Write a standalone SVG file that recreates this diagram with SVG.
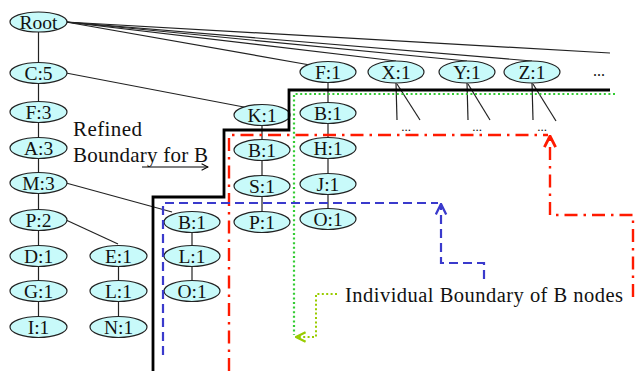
<svg xmlns="http://www.w3.org/2000/svg" width="635" height="371" viewBox="0 0 635 371">
  <style>
    .node ellipse { fill: #c8fafa; stroke: #222; stroke-width: 1.2; }
    .node text { font-family: "Liberation Serif", "Times New Roman", serif; font-size: 19.5px; fill: #111; text-anchor: middle; }
    .edge { stroke: #222; stroke-width: 1.2; fill: none; }
    .label { font-family: "Liberation Serif", "Times New Roman", serif; fill: #111; }
    .dots { font-family: "Liberation Serif", "Times New Roman", serif; font-size: 13px; fill: #111; text-anchor: middle; }
    .refined { stroke: #000; stroke-width: 2.8; fill: none; }
    .red { stroke: #ff1a00; stroke-width: 2.4; fill: none; stroke-dasharray: 13 6 2.5 6; }
    .blue { stroke: #3a3acc; stroke-width: 2.2; fill: none; stroke-dasharray: 9 5; }
    .green { stroke: #33cc33; stroke-width: 2.2; fill: none; stroke-dasharray: 2 2.6; }
    .lime { stroke: #99cc00; stroke-width: 2; fill: none; stroke-dasharray: 2 2.4; }
  </style>
  <defs>
    <marker id="arrow-black" viewBox="0 0 10 10" refX="9" refY="5" markerWidth="8" markerHeight="8" markerUnits="userSpaceOnUse" orient="auto">
      <path d="M1,1 L9,5 L1,9" fill="none" stroke="#000" stroke-width="1.3"/>
    </marker>
    <marker id="arrow-red" viewBox="0 0 10 10" refX="9" refY="5" markerWidth="14" markerHeight="14" markerUnits="userSpaceOnUse" orient="auto">
      <path d="M1,1 L9,5 L1,9" fill="none" stroke="#ff1a00" stroke-width="2"/>
    </marker>
    <marker id="arrow-blue" viewBox="0 0 10 10" refX="9" refY="5" markerWidth="13" markerHeight="13" markerUnits="userSpaceOnUse" orient="auto">
      <path d="M1,1 L9,5 L1,9" fill="none" stroke="#3a3acc" stroke-width="1.8"/>
    </marker>
    <marker id="arrow-lime" viewBox="0 0 10 10" refX="9" refY="5" markerWidth="12" markerHeight="12" markerUnits="userSpaceOnUse" orient="auto">
      <path d="M1,1 L9,5 L1,9" fill="none" stroke="#99cc00" stroke-width="2"/>
    </marker>
  </defs>

  <!-- tree edges -->
  <g id="connectors">
    <line class="edge" x1="66" y1="22" x2="310" y2="65"/>
    <line class="edge" x1="66" y1="22" x2="396" y2="61"/>
    <line class="edge" x1="66" y1="22" x2="467" y2="61"/>
    <line class="edge" x1="66" y1="22" x2="532" y2="61"/>
    <line class="edge" x1="66" y1="22" x2="610" y2="53"/>
    <line class="edge" x1="38.5" y1="22" x2="38.5" y2="327"/>
    <line class="edge" x1="66" y1="73" x2="249" y2="108"/>
    <line class="edge" x1="66" y1="183" x2="172" y2="212"/>
    <line class="edge" x1="66" y1="220" x2="118" y2="244"/>
    <line class="edge" x1="118.5" y1="256" x2="118.5" y2="327"/>
    <line class="edge" x1="192" y1="222" x2="192" y2="291"/>
    <line class="edge" x1="262" y1="115" x2="262" y2="222"/>
    <line class="edge" x1="328" y1="72" x2="328" y2="219"/>
    <!-- children stubs below X, Y, Z -->
    <line class="edge" x1="396" y1="83" x2="397" y2="120"/>
    <line class="edge" x1="397" y1="84" x2="420" y2="120"/>
    <line class="edge" x1="467" y1="83" x2="468" y2="120"/>
    <line class="edge" x1="468" y1="84" x2="490" y2="120"/>
    <line class="edge" x1="532" y1="83" x2="533" y2="120"/>
    <line class="edge" x1="533" y1="84" x2="556" y2="121"/>
  </g>

  <!-- nodes -->
  <g id="n-root" class="node"><ellipse cx="38.5" cy="22" rx="28.5" ry="10"/><text x="38.5" y="28.5">Root</text></g>
  <g id="n-c5" class="node"><ellipse cx="38.5" cy="73" rx="28.5" ry="10.5"/><text x="38.5" y="79.5">C:5</text></g>
  <g id="n-f3" class="node"><ellipse cx="38.5" cy="112" rx="28.5" ry="10.5"/><text x="38.5" y="118.5">F:3</text></g>
  <g id="n-a3" class="node"><ellipse cx="38.5" cy="148" rx="28.5" ry="10.5"/><text x="38.5" y="154.5">A:3</text></g>
  <g id="n-m3" class="node"><ellipse cx="38.5" cy="183" rx="28.5" ry="10.5"/><text x="38.5" y="189.5">M:3</text></g>
  <g id="n-p2" class="node"><ellipse cx="38.5" cy="220" rx="28.5" ry="10.5"/><text x="38.5" y="226.5">P:2</text></g>
  <g id="n-d1" class="node"><ellipse cx="38.5" cy="256" rx="28.5" ry="10.5"/><text x="38.5" y="262.5">D:1</text></g>
  <g id="n-g1" class="node"><ellipse cx="38.5" cy="291" rx="28.5" ry="10.5"/><text x="38.5" y="297.5">G:1</text></g>
  <g id="n-i1" class="node"><ellipse cx="38.5" cy="327" rx="28.5" ry="10.5"/><text x="38.5" y="333.5">I:1</text></g>
  <g id="n-e1" class="node"><ellipse cx="118.5" cy="256" rx="28.5" ry="10.5"/><text x="118.5" y="262.5">E:1</text></g>
  <g id="n-l1a" class="node"><ellipse cx="118.5" cy="291" rx="28.5" ry="10.5"/><text x="118.5" y="297.5">L:1</text></g>
  <g id="n-n1" class="node"><ellipse cx="118.5" cy="327" rx="28.5" ry="10.5"/><text x="118.5" y="333.5">N:1</text></g>
  <g id="n-b1a" class="node"><ellipse cx="192" cy="222" rx="28" ry="10.5"/><text x="192" y="228.5">B:1</text></g>
  <g id="n-l1b" class="node"><ellipse cx="192" cy="256" rx="28" ry="10.5"/><text x="192" y="262.5">L:1</text></g>
  <g id="n-o1a" class="node"><ellipse cx="192" cy="291" rx="28" ry="10.5"/><text x="192" y="297.5">O:1</text></g>
  <g id="n-k1" class="node"><ellipse cx="262" cy="115" rx="28" ry="10.5"/><text x="262" y="121.5">K:1</text></g>
  <g id="n-b1b" class="node"><ellipse cx="262" cy="150" rx="28" ry="10.5"/><text x="262" y="156.5">B:1</text></g>
  <g id="n-s1" class="node"><ellipse cx="262" cy="186" rx="28" ry="10.5"/><text x="262" y="192.5">S:1</text></g>
  <g id="n-p1" class="node"><ellipse cx="262" cy="222" rx="28" ry="10.5"/><text x="262" y="228.5">P:1</text></g>
  <g id="n-f1" class="node"><ellipse cx="328" cy="72" rx="28" ry="10.5"/><text x="328" y="78.5">F:1</text></g>
  <g id="n-b1c" class="node"><ellipse cx="328" cy="113" rx="28" ry="10.5"/><text x="328" y="119.5">B:1</text></g>
  <g id="n-h1" class="node"><ellipse cx="328" cy="148" rx="28" ry="10.5"/><text x="328" y="154.5">H:1</text></g>
  <g id="n-j1" class="node"><ellipse cx="328" cy="184" rx="28" ry="10.5"/><text x="328" y="190.5">J:1</text></g>
  <g id="n-o1b" class="node"><ellipse cx="328" cy="219" rx="28" ry="10.5"/><text x="328" y="225.5">O:1</text></g>
  <g id="n-x1" class="node"><ellipse cx="396" cy="72" rx="28" ry="11"/><text x="396" y="78.5">X:1</text></g>
  <g id="n-y1" class="node"><ellipse cx="467" cy="72" rx="28" ry="11"/><text x="467" y="78.5">Y:1</text></g>
  <g id="n-z1" class="node"><ellipse cx="532" cy="72" rx="28" ry="11"/><text x="532" y="78.5">Z:1</text></g>

  <!-- elided siblings / children -->
  <text class="dots" x="599" y="76" style="font-size:16px">...</text>
  <text class="dots" x="406" y="131">...</text>
  <text class="dots" x="477" y="131">...</text>
  <text class="dots" x="542" y="131">...</text>

  <!-- boundaries -->
  <g id="boundaries">
    <path class="refined" d="M610,90 H289 V130 H224 V197 H153 V371"/>
    <path class="green" d="M615,94 H294 V335"/>
    <path class="red" d="M229,371 V135 H548"/>
    <path class="blue" d="M163,355 V203 H438"/>
  </g>

  <!-- callouts -->
  <g id="callouts">
    <line x1="142" y1="167" x2="208" y2="167" stroke="#000" stroke-width="1.2" marker-end="url(#arrow-black)"/>
    <path class="red" d="M633,297 V215 H550 V136" marker-end="url(#arrow-red)"/>
    <path class="blue" d="M484,279 V263 H441 V204" marker-end="url(#arrow-blue)"/>
    <path class="lime" d="M337,294 H316 V337 H296" marker-end="url(#arrow-lime)"/>
  </g>

  <g id="labels">
    <text class="label" x="73" y="136" font-size="21" textLength="69" lengthAdjust="spacing">Refined</text>
    <text class="label" x="73" y="162" font-size="21" textLength="135" lengthAdjust="spacing">Boundary for B</text>
    <text class="label" x="345" y="302" font-size="20.5" textLength="278" lengthAdjust="spacing">Individual Boundary of B nodes</text>
  </g>
</svg>
